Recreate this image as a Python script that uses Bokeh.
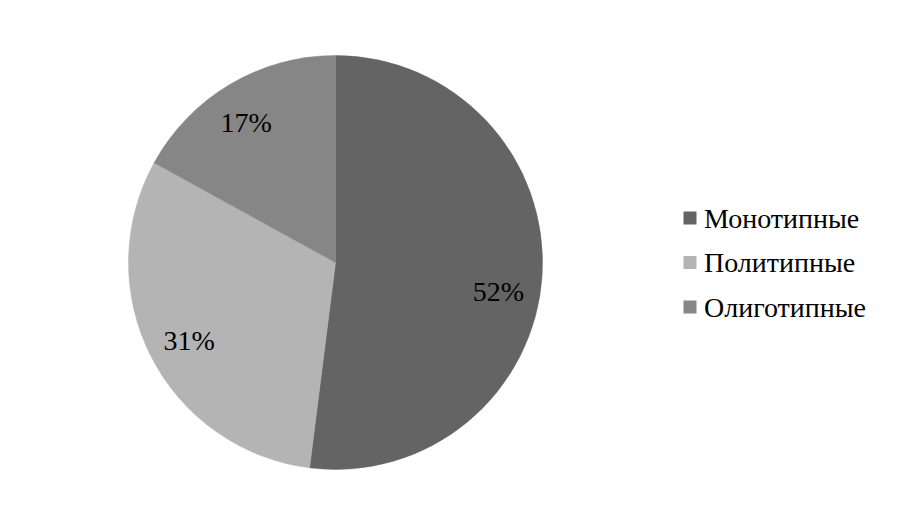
import math
from bokeh.plotting import figure
from bokeh.models import Range1d, ColumnDataSource
from bokeh.core.properties import value
from bokeh.embed import file_html
from bokeh.resources import INLINE

categories = ["Монотипные", "Политипные", "Олиготипные"]
shares = [52, 31, 17]
labels = ["52%", "31%", "17%"]
colors = ["#646464", "#b4b4b4", "#868686"]

FONT = value("Liberation Serif")

W, H = 884, 509
p = figure(width=W, height=H, output_backend="svg", toolbar_location=None,
           x_range=Range1d(0, W), y_range=Range1d(16, 16 + H),
           min_border=0, outline_line_color=None)
p.axis.visible = False
p.grid.visible = False

cx, cy, R = 335, 263, 207
label_nudge_deg = [-6.5, 1.0, 2.0]
total = sum(shares)
starts, ends, lx, ly = [], [], [], []
cum = 0
for i, s in enumerate(shares):
    a0 = math.pi / 2 - 2 * math.pi * cum / total
    cum += s
    a1 = math.pi / 2 - 2 * math.pi * cum / total
    starts.append(a0)
    ends.append(a1)
    mid = (a0 + a1) / 2 + math.radians(label_nudge_deg[i])
    lx.append(cx + 0.8 * R * math.cos(mid))
    ly.append(cy + 0.8 * R * math.sin(mid))

src = ColumnDataSource(dict(start=starts, end=ends, color=colors, cat=categories,
                            lx=lx, ly=ly, label=labels))
p.wedge(x=cx, y=cy, radius=R, start_angle="start", end_angle="end",
        direction="clock", fill_color="color", line_color="color", line_width=0.5,
        source=src)
p.text(x="lx", y="ly", text="label", source=src, text_align="center",
       text_baseline="middle", text_font=FONT,
       text_font_size="28px", text_color="black")

# legend
leg_x, leg_y0, leg_dy = 689.5, 525 - 217.5, 44.5
lgx = [leg_x] * len(categories)
lgy = [leg_y0 - i * leg_dy for i in range(len(categories))]
lsrc = ColumnDataSource(dict(x=lgx, y=lgy, tx=[v + 14 for v in lgx], color=colors, cat=categories))
p.scatter(x="x", y="y", size=13, marker="square", fill_color="color",
          line_color=None, source=lsrc)
p.text(x="tx", y="y", text="cat", source=lsrc, text_align="left",
       text_baseline="middle", text_font=FONT,
       text_font_size="28px", text_color="black")

open("out.html", "w").write(file_html(p, INLINE))
